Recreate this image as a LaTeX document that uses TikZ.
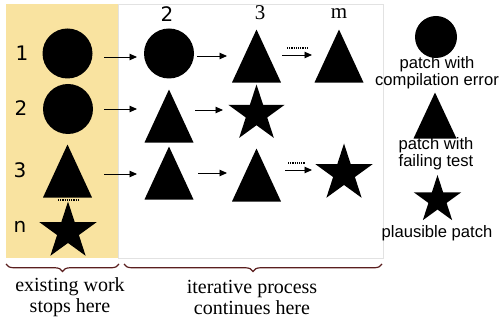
\documentclass[tikz,border=0pt]{standalone}
\usepackage{fontspec}
\setmainfont{Liberation Serif}
\newfontfamily\dejasans{DejaVu Sans}
\newfontfamily\arialish{Liberation Sans}
\usetikzlibrary{shapes.geometric,arrows.meta,calc,decorations.pathreplacing}
\definecolor{bandyellow}{HTML}{F9E3A0}
\definecolor{panelgray}{HTML}{E2E2E2}
\definecolor{bracebrown}{HTML}{5A1E1E}
\tikzset{
  circ/.style={circle,fill=black,minimum size=50pt,inner sep=0pt},
  tri/.style={isosceles triangle,isosceles triangle stretches,fill=black,inner sep=0pt,
              minimum width=49pt,minimum height=53pt,rotate=90,anchor=apex},
  starshape/.style={star,star points=5,star point ratio=2.618,fill=black,inner sep=0pt,minimum size=60pt},
  arr/.style={-{Triangle[length=7.5pt,width=6.5pt]},line width=0.9pt},
  dots/.style={line width=1.4pt,dash pattern=on 1.1pt off 1.1pt},
  rowlab/.style={font=\dejasans\fontsize{20}{22}\selectfont},
  legtext/.style={font=\arialish\fontsize{16.6}{17}\selectfont,align=center},
  bottext/.style={font=\fontsize{20}{21}\selectfont,align=center},
  bracestyle/.style={decorate,decoration={brace,mirror,amplitude=7.5pt},draw=bracebrown,line width=1.2pt}
}
\begin{document}
\begin{tikzpicture}[x=1pt,y=-1pt]
\useasboundingbox (0,0) rectangle (500,320);
% panels
\fill[bandyellow] (6,4) rectangle (118,258);
\draw[panelgray,line width=0.8pt] (118,4) rectangle (383,258);
% headers
\node[rowlab] (h2) at (167,14) {2};
\node[font=\fontsize{21}{22}\selectfont] (h3) at (260,13) {3};
\node[font=\fontsize{21}{22}\selectfont] (hm) at (339,14) {m};
% row labels
\node[rowlab] (l1) at (22,53) {1};
\node[rowlab] (l2) at (21,108) {2};
\node[rowlab] (l3) at (20,170) {3};
\node[rowlab] (ln) at (20,227) {n};
% row 1
\node[circ] (c11) at (67.5,53.5) {};
\node[circ] (c12) at (169,53.5) {};
\node[tri] (t13) at (256.5,29) {};
\node[tri] (t14) at (339,29) {};
% row 2
\node[circ] (c21) at (68,109) {};
\node[tri] (t22) at (169,89) {};
\node[starshape,minimum size=59pt] (s23) at (256.5,114) {};
% row 3
\node[tri] (t31) at (67.5,144) {};
\node[tri] (t32) at (169,146) {};
\node[tri] (t33) at (256.5,148) {};
\node[starshape] (s34) at (344,173.5) {};
% row n
\node[starshape] (sn1) at (68,231.5) {};
% arrows row 1
\draw[arr] ($(c11.center)+(36.5,3.5)$) -- ($(c12.center)+(-32,3.5)$);
\draw[arr] ($(c12.center)+(28,2.5)$) -- ($(t13.apex)+(-29.5,27)$);
\draw[arr] ($(t13.apex)+(25.5,26)$) -- ($(t14.apex)+(-27,26)$);
\draw[dots] ($(t13.apex)+(30.5,19)$) -- ($(t14.apex)+(-32,19)$);
% arrows row 2
\draw[arr] ($(c21.center)+(36,0)$) -- ($(t22.apex)+(-32,20)$);
\draw[arr] ($(t22.apex)+(26,21)$) -- ($(s23.center)+(-33.5,-4)$);
% arrows row 3
\draw[arr] ($(t31.apex)+(36.5,30)$) -- ($(t32.apex)+(-32,28)$);
\draw[arr] ($(t32.apex)+(29,27)$) -- ($(t33.apex)+(-29.5,25)$);
\draw[arr] ($(t33.apex)+(28.5,22)$) -- ($(s34.center)+(-32,-3.5)$);
\draw[dots] ($(t33.apex)+(31.5,15)$) -- ($(s34.center)+(-39,-10.5)$);
% dots between 3 and n
\draw[dots] ($(t31.apex)+(-9.5,56)$) -- ($(sn1.center)+(10,-31.5)$);
% legend
\node[circ,minimum size=42pt] (lc) at (436,37) {};
\node[legtext] (lct) at (437,73) {patch with\\compilation error};
\node[tri,minimum width=43pt,minimum height=46pt] (lt) at (435,92) {};
\node[legtext] (ltt) at (436,154) {patch with\\failing test};
\node[starshape,minimum size=50pt] (ls) at (437.5,200) {};
\node[legtext] (lst) at (437,233) {plausible patch};
% braces
\coordinate (b1a) at (6,264);
\coordinate (b1b) at (119,264);
\coordinate (b2a) at (124,264);
\coordinate (b2b) at (382,264);
\draw[bracestyle] (b1a) -- (b1b);
\draw[bracestyle] (b2a) -- (b2b);
\node[bottext] (bt1) at (70,297.5) {existing work\\stops here};
\node[bottext] (bt2) at (252,297.5) {iterative process\\continues here};
\end{tikzpicture}
\end{document}
